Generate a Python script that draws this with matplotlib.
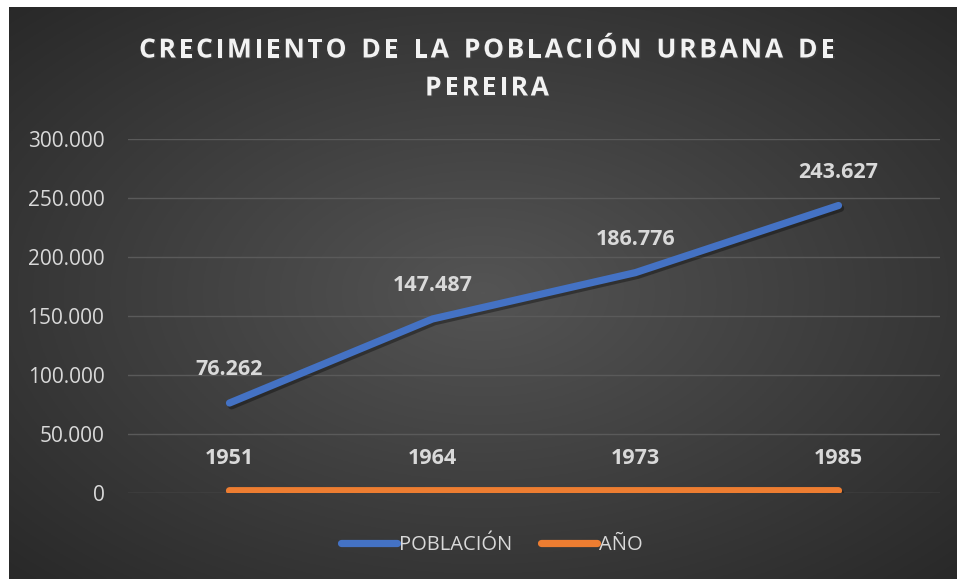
import matplotlib.pyplot as plt
import numpy as np
import matplotlib.patheffects as pe

years = ['1951', '1964', '1973', '1985']
poblacion = [76262, 147487, 186776, 243627]
anio = [1951, 1964, 1973, 1985]
title_lines = ['CRECIMIENTO DE LA POBLACIÓN URBANA DE', 'PEREIRA']

W, H = 958, 579
fig = plt.figure(figsize=(W / 100, H / 100), dpi=100)
fig.patch.set_facecolor('white')

# dark radial gradient background (Excel style)
bg = fig.add_axes([9 / W, 0, (957 - 9) / W, (H - 7) / H])
yy, xx = np.mgrid[0:1:300j, 0:1:500j]
r = np.sqrt(((xx - 0.5) / 0.5) ** 2 + ((yy - 0.5) / 0.5) ** 2) / np.sqrt(2)
shade = 0.33 - 0.17 * r
bg.imshow(np.dstack([shade] * 3), aspect='auto', extent=[0, 1, 0, 1])
bg.set_axis_off()

ax = fig.add_axes([128 / W, (H - 493) / H, (940 - 128) / W, (493 - 139) / H])
ax.patch.set_alpha(0)
x = np.arange(len(years))

shadow = [pe.SimpleLineShadow(offset=(1.5, -2), alpha=0.35, shadow_color='black'), pe.Normal()]
ax.plot(x, poblacion, color='#4472C4', lw=5.2, solid_capstyle='round',
        solid_joinstyle='round', label='POBLACIÓN', path_effects=shadow, zorder=3)
ax.plot(x, anio, color='#ED7D31', lw=5.2, solid_capstyle='round',
        label='AÑO', path_effects=shadow, zorder=3)

lab_col = '#d9d9d9'
for i in x:
    ax.annotate(f'{poblacion[i]:,}'.replace(',', '.'), (i, poblacion[i]),
                xytext=(0, 24), textcoords='offset points', ha='center', va='center',
                fontsize=15.5, fontweight='bold', color=lab_col, family='Open Sans')
    ax.annotate(str(anio[i]), (i, anio[i]),
                xytext=(0, 23), textcoords='offset points', ha='center', va='center',
                fontsize=15.5, fontweight='bold', color=lab_col, family='Open Sans')

ax.set_xlim(-0.5, len(years) - 0.5)
ax.set_ylim(0, 300000)
ax.set_yticks(np.arange(0, 300001, 50000))
ax.set_yticklabels([f'{v:,}'.replace(',', '.') for v in range(0, 300001, 50000)],
                   fontsize=15, color=lab_col, family='Open Sans')
ax.set_xticks([])
ax.tick_params(axis='y', length=0, pad=17)
ax.grid(axis='y', color='#5a5a5a', lw=1)
for s in ax.spines.values():
    s.set_visible(False)

leg = ax.legend(loc='center', bbox_to_anchor=((492 - 128) / (940 - 128), (493 - 545) / (493 - 139)),
                ncol=2, frameon=False, prop={'family': 'Open Sans', 'size': 14.5},
                handlelength=2.8, handletextpad=0.1, columnspacing=1.4)
for t in leg.get_texts():
    t.set_color(lab_col)
for h in leg.get_lines():
    h.set_linewidth(5.2)
    h.set_solid_capstyle('round')
    h.set_path_effects([])


def spaced_text(s, xc, yc, size, spacing):
    # draw text centred at (xc, yc) pixels with extra letter spacing
    renderer = fig.canvas.get_renderer()
    widths = []
    for ch in s:
        t = fig.text(0, 0, ch if ch != ' ' else 'n', fontsize=size, fontweight='bold',
                     family='Open Sans')
        bb = t.get_window_extent(renderer)
        widths.append(bb.width * (0.55 if ch == ' ' else 1))
        t.remove()
    total = sum(widths) + spacing * (len(s) - 1)
    pos = xc - total / 2
    for ch, w in zip(s, widths):
        fig.text(pos / W, 1 - yc / H, ch, fontsize=size, fontweight='bold',
                 family='Open Sans', color='#f2f2f2', va='center', ha='left',
                 path_effects=[pe.withSimplePatchShadow(offset=(1, -1), alpha=0.6)])
        pos += w + spacing


spaced_text(title_lines[0], 487, 50, 19, 2.7)
spaced_text(title_lines[1], 487, 88, 19, 2.7)

fig.savefig('out.png', dpi=100)
